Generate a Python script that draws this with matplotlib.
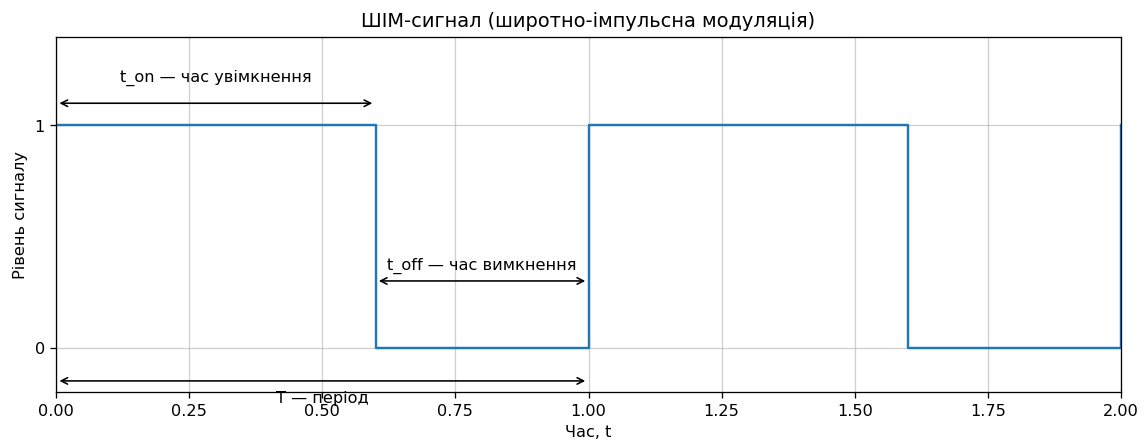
import matplotlib.pyplot as plt

# PWM signal: switching times and levels
times = [0, 0.6, 1.0, 1.6, 2.0]
levels = [1, 0, 1, 0, 1]

# annotations: (start, end, arrow y, label, label x, label y)
spans = [
    (0.0, 0.6, 1.1, "t_on — час увімкнення", 0.3, 1.2),
    (0.6, 1.0, 0.3, "t_off — час вимкнення", 0.8, 0.35),
    (0.0, 1.0, -0.15, "T — період", 0.5, -0.25),
]

fig = plt.figure(figsize=(9.88, 3.83), dpi=116)
ax = fig.add_subplot(111)
fig.subplots_adjust(left=0.049, right=0.978, top=0.917, bottom=0.117)

ax.step(times, levels, where="post", color="#1f77b4", linewidth=1.5)

for s in spans:
    ax.annotate("", xy=(s[1], s[2]), xytext=(s[0], s[2]),
                arrowprops=dict(arrowstyle="<->", color="black"))
    ax.text(s[4], s[5], s[3], ha="center")

ax.set_xlim(0, 2)
ax.set_ylim(-0.2, 1.4)
ax.set_yticks([0, 1])
ax.grid(True, alpha=0.6)
ax.set_title("ШІМ-сигнал (широтно-імпульсна модуляція)")
ax.set_xlabel("Час, t")
ax.set_ylabel("Рівень сигналу")

plt.savefig("out.png", dpi=116)
